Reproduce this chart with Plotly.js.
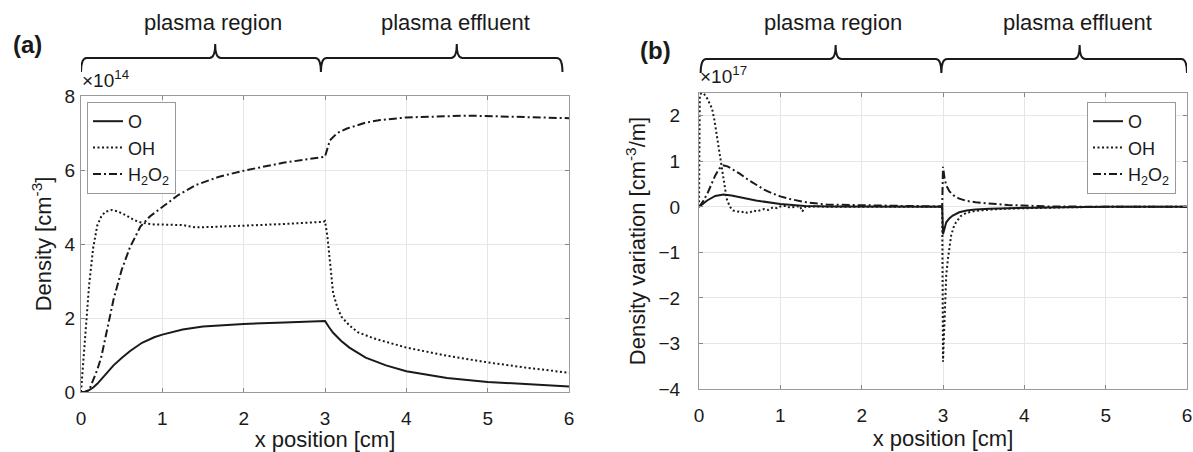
<!DOCTYPE html>
<html><head><meta charset="utf-8">
<script src="https://cdn.plot.ly/plotly-3.0.1.min.js"></script>
<style>html,body{margin:0;padding:0;background:#fff}</style>
</head><body><div id="chart" style="width:1193px;height:452px"></div>
<script>
// ---------- Panel (a): density, units of 1e14 cm^-3 ----------
const aO_x = [0,0.05,0.1,0.15,0.2,0.3,0.4,0.5,0.6,0.75,0.9,1.0,1.25,1.5,1.75,2.0,2.5,2.95,3.0,3.05,3.1,3.2,3.3,3.5,3.75,4.0,4.5,5.0,5.5,6.0];
const aO_y = [0,0.01,0.05,0.12,0.22,0.48,0.72,0.92,1.1,1.33,1.48,1.55,1.69,1.77,1.81,1.84,1.88,1.91,1.92,1.75,1.6,1.38,1.2,0.93,0.72,0.56,0.38,0.27,0.2,0.15];

const aOH_x = [0,0.02,0.05,0.1,0.15,0.2,0.25,0.3,0.38,0.45,0.55,0.65,0.75,0.9,1.1,1.26,1.35,1.42,1.6,2.0,2.5,2.98,3.0,3.03,3.06,3.1,3.15,3.2,3.3,3.4,3.6,3.8,4.0,4.5,5.0,5.5,6.0];
const aOH_y = [0,0.6,1.5,2.9,3.9,4.5,4.75,4.87,4.92,4.88,4.78,4.65,4.57,4.53,4.52,4.51,4.47,4.45,4.46,4.49,4.54,4.6,4.62,4.2,3.57,2.67,2.3,2.04,1.8,1.62,1.45,1.33,1.2,0.98,0.8,0.65,0.52];

const aH2O2_x = [0,0.05,0.1,0.15,0.2,0.25,0.3,0.4,0.5,0.6,0.73,0.85,1.0,1.2,1.42,1.7,2.04,2.5,3.0,3.03,3.06,3.15,3.27,3.5,3.68,4.0,4.5,4.75,5.3,6.0];
const aH2O2_y = [0,0.0,0.05,0.3,0.6,0.95,1.5,2.5,3.3,3.9,4.47,4.75,5.0,5.33,5.6,5.82,6.0,6.2,6.36,6.6,6.8,7.0,7.12,7.28,7.35,7.42,7.46,7.47,7.44,7.4];

// ---------- Panel (b): density variation, units of 1e17 cm^-3/m ----------
const bO_x = [0,0.05,0.1,0.2,0.3,0.4,0.5,0.7,1.0,1.3,1.6,2.0,2.5,2.99,3.0,3.02,3.04,3.08,3.12,3.2,3.29,3.4,3.57,3.8,4.0,4.5,5,6];
const bO_y = [0,0.07,0.14,0.24,0.27,0.25,0.21,0.14,0.06,0.02,0.01,0.005,0,0,-0.6,-0.45,-0.34,-0.25,-0.19,-0.12,-0.08,-0.06,-0.04,-0.03,-0.02,-0.01,0,0];

const bOH_x = [0,0.005,0.01,0.03,0.06,0.09,0.12,0.16,0.19,0.22,0.25,0.28,0.31,0.34,0.38,0.42,0.47,0.52,0.56,0.59,0.63,0.67,0.71,0.75,0.8,0.85,0.91,0.96,1.0,1.07,1.12,1.18,1.24,1.27,1.29,1.31,1.35,1.45,1.6,2.0,2.5,2.99,3.0,3.01,3.02,3.04,3.06,3.08,3.1,3.13,3.16,3.22,3.29,3.4,3.57,3.8,3.98,4.5,5,6];
const bOH_y = [0,1.5,2.45,2.5,2.48,2.42,2.32,2.16,1.9,1.57,1.2,0.84,0.5,0.18,0.0,-0.08,-0.1,-0.12,-0.1,-0.13,-0.12,-0.08,-0.1,-0.08,-0.05,-0.07,-0.01,-0.03,0.01,0.02,-0.02,0.0,0.02,-0.1,-0.05,0.01,0.0,0.01,0,0,0,0,-3.4,-2.8,-2.2,-1.5,-1.15,-0.85,-0.63,-0.45,-0.34,-0.2,-0.13,-0.09,-0.06,-0.04,-0.03,-0.01,0,0];

const bH2O2_x = [0,0.05,0.11,0.15,0.2,0.25,0.3,0.35,0.4,0.5,0.6,0.71,0.8,0.91,1.0,1.12,1.32,1.57,2.0,2.5,2.99,3.0,3.02,3.04,3.08,3.13,3.2,3.29,3.4,3.57,3.8,3.98,4.27,5,6];
const bH2O2_y = [0,0.12,0.32,0.5,0.69,0.84,0.91,0.89,0.84,0.73,0.6,0.47,0.38,0.29,0.23,0.17,0.1,0.05,0.03,0.02,0.01,0.88,0.62,0.47,0.34,0.25,0.18,0.13,0.1,0.07,0.04,0.03,0.01,0,0];

const seriesNames = ['O','OH','H<sub>2</sub>O<sub>2</sub>'];
const xTicks = [0,1,2,3,4,5,6];
const aYTicks = [0,2,4,6,8];
const bYTicks = [-4,-3,-2,-1,0,1,2];
const regionLabels = ['plasma region','plasma effluent'];

// ---------- layout helpers (pixel -> paper) ----------
const W = 1193, H = 452, L = 81, R = 1187, T = 93, B = 392;
const px = v => (v - L) / (R - L);
const py = v => (B - v) / (B - T);

const FONT = 'Liberation Sans, Arial, Helvetica, sans-serif';
const INK = '#1a1a1a';
const DOT = '2px,2.5px';
const DASHDOT = '8px,3px,2px,3px';

function mk(x, y, name, dash, xa, ya, leg) {
  return {x: x, y: y, name: name, type: 'scatter', mode: 'lines',
    line: {color: INK, width: 2, dash: dash}, xaxis: xa, yaxis: ya, legend: leg, hoverinfo: 'skip'};
}
const traces = [
  mk(aO_x, aO_y, seriesNames[0], 'solid', 'x', 'y', 'legend'),
  mk(aOH_x, aOH_y, seriesNames[1], DOT, 'x', 'y', 'legend'),
  mk(aH2O2_x, aH2O2_y, seriesNames[2], DASHDOT, 'x', 'y', 'legend'),
  mk(bO_x, bO_y, seriesNames[0], 'solid', 'x2', 'y2', 'legend2'),
  mk(bOH_x, bOH_y, seriesNames[1], DOT, 'x2', 'y2', 'legend2'),
  mk(bH2O2_x, bH2O2_y, seriesNames[2], DASHDOT, 'x2', 'y2', 'legend2'),
];

function axisX(domain, anchor) {
  return {domain: domain, anchor: anchor, range: [0, 6], tickvals: xTicks, ticks: 'inside', ticklen: 4,
    tickcolor: '#888', showgrid: true, gridcolor: '#e6e6e6', gridwidth: 1, showline: true, linecolor: '#9a9a9a',
    linewidth: 1, mirror: 'ticks', zeroline: false, automargin: false, ticklabelstandoff: 9,
    tickfont: {family: FONT, size: 19, color: INK},
    title: {text: 'x position [cm]', font: {family: FONT, size: 22, color: INK}, standoff: 0}};
}
function axisY(domain, anchor, range, ticks, title, stand) {
  return {domain: domain, anchor: anchor, range: range, tickvals: ticks, ticks: 'inside', ticklen: 4,
    tickcolor: '#888', showgrid: true, gridcolor: '#e6e6e6', gridwidth: 1, showline: true, linecolor: '#9a9a9a',
    linewidth: 1, mirror: 'ticks', zeroline: false, automargin: false, ticklabelstandoff: stand,
    tickfont: {family: FONT, size: 19, color: INK},
    title: {text: title, font: {family: FONT, size: 22, color: INK}, standoff: 6}};
}

// curly brace in data-x / paper-y
function brace(xref, xs, yh, yb, yt, e) {
  const [x0, c1, m, c2, x1] = xs;
  const Y = v => py(v);
  const p = [
    `M ${x0},${Y(yb)}`, `Q ${x0},${Y(yh)} ${x0 + e},${Y(yh)}`,
    `L ${c1 - e},${Y(yh)}`, `Q ${c1},${Y(yh)} ${c1},${Y(yt)}`, `Q ${c1},${Y(yh)} ${c1 + e},${Y(yh)}`,
    `L ${m - e},${Y(yh)}`, `Q ${m},${Y(yh)} ${m},${Y(yb)}`, `Q ${m},${Y(yh)} ${m + e},${Y(yh)}`,
    `L ${c2 - e},${Y(yh)}`, `Q ${c2},${Y(yh)} ${c2},${Y(yt)}`, `Q ${c2},${Y(yh)} ${c2 + e},${Y(yh)}`,
    `L ${x1 - e},${Y(yh)}`, `Q ${x1},${Y(yh)} ${x1},${Y(yb)}`
  ].join(' ');
  return {type: 'path', xref: xref, yref: 'paper', path: p, line: {color: INK, width: 2}};
}

const legendStyle = (x, y) => ({x: x, y: y, xanchor: 'left', yanchor: 'top', bgcolor: '#fff',
  bordercolor: '#999', borderwidth: 1, font: {family: FONT, size: 18, color: INK}, tracegroupgap: 0,
  itemwidth: 30, itemclick: false});

const ann = (o) => Object.assign({showarrow: false, xanchor: 'center', yanchor: 'middle',
  font: {family: FONT, size: 22, color: INK}}, o);

const layout = {
  width: W, height: H, margin: {l: L, r: W - R, t: T, b: H - B},
  paper_bgcolor: '#fff', plot_bgcolor: '#fff', showlegend: true,
  font: {family: FONT, color: INK},
  xaxis: axisX([0, px(569)], 'y'),
  yaxis: axisY([py(392), py(96)], 'x', [0, 8], aYTicks, 'Density [cm<sup>-3</sup>]', 1),
  xaxis2: axisX([px(699), 1], 'y2'),
  yaxis2: axisY([py(389), 1], 'x2', [-4, 2.5], bYTicks, 'Density variation [cm<sup>-3</sup>/m]', 14),
  legend: legendStyle(px(87), py(102)),
  legend2: legendStyle(px(1087), py(102)),
  shapes: [
    brace('x', [0, 1.65, 2.95, 4.62, 5.92], 58, 72, 44, 0.07),
    brace('x2', [0.02, 1.68, 2.98, 4.68, 6], 59, 73, 45, 0.07),
  ],
  annotations: [
    ann({xref: 'paper', yref: 'paper', x: px(27), y: py(44), text: '<b>(a)</b>', font: {family: FONT, size: 24, color: INK}}),
    ann({xref: 'paper', yref: 'paper', x: px(655), y: py(50), text: '<b>(b)</b>', font: {family: FONT, size: 24, color: INK}}),
    ann({xref: 'x', yref: 'paper', x: 1.62, y: py(23), text: regionLabels[0]}),
    ann({xref: 'x', yref: 'paper', x: 4.6, y: py(23), text: regionLabels[1]}),
    ann({xref: 'x2', yref: 'paper', x: 1.65, y: py(23), text: regionLabels[0]}),
    ann({xref: 'x2', yref: 'paper', x: 4.65, y: py(23), text: regionLabels[1]}),
    ann({xref: 'x', yref: 'paper', x: 0, y: py(93), xanchor: 'left', yanchor: 'bottom', xshift: -1,
      text: '×10<sup>14</sup>', font: {family: FONT, size: 19, color: INK}}),
    ann({xref: 'x2', yref: 'paper', x: 0, y: py(89), xanchor: 'left', yanchor: 'bottom', xshift: -1,
      text: '×10<sup>17</sup>', font: {family: FONT, size: 19, color: INK}}),
  ],
};

Plotly.newPlot('chart', traces, layout, {displayModeBar: false, staticPlot: true});
</script></body></html>
